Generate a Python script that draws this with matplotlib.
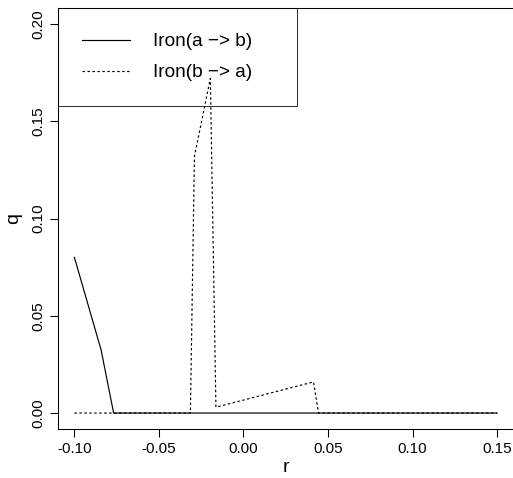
import numpy as np
import matplotlib
matplotlib.use("Agg")
from matplotlib import pyplot as plt

plt.rcParams['font.family'] = ['Liberation Sans', 'DejaVu Sans']

# series
r_ab = [-0.100, -0.0842, -0.0768, 0.150]
q_ab = [0.080, 0.0324, 0.0, 0.0]
r_ba = [-0.100, -0.0314, -0.0290, -0.0196, -0.0163, 0.0414, 0.0444, 0.150]
q_ba = [0.0, 0.0, 0.132, 0.172, 0.003, 0.016, 0.0, 0.0]
labels = ['Iron(a \u2212> b)', 'Iron(b \u2212> a)']
xticks = [-0.10, -0.05, 0.00, 0.05, 0.10, 0.15]
yticks = [0.00, 0.05, 0.10, 0.15, 0.20]

fs_tick = 11
fs_lab = 14
fs_leg = 13.7
fig = plt.figure(figsize=(5.13, 4.78), dpi=100)
ax = fig.add_axes([57.5/513, (478-428.6)/478, 456.5/513, 420.2/478])

ax.plot(r_ab, q_ab, color='black', lw=0.85, label=labels[0])
ax.plot(r_ba, q_ba, color='black', lw=0.85, dashes=(2.1, 2.1), label=labels[1])

ax.set_xlim(-0.11, 0.16)
ax.set_ylim(-0.008, 0.208)
ax.set_xticks(xticks)
ax.set_xticklabels(['%.2f' % v for v in xticks], fontsize=fs_tick)
ax.set_yticks(yticks)
ax.set_yticklabels(['%.2f' % v for v in yticks], fontsize=fs_tick, rotation=90, va='center')
ax.tick_params(length=6, width=0.75, direction='out')
ax.tick_params(axis='x', pad=4)
ax.tick_params(axis='y', pad=2.5)
for s in ax.spines.values():
    s.set_linewidth(0.75)

ax.set_xlabel('r', fontsize=fs_lab)
ax.xaxis.label.set_va('center')
ax.xaxis.set_label_coords(0.5, -0.0914)
ax.set_ylabel('q', fontsize=fs_lab)
ax.yaxis.label.set_va('center')
ax.yaxis.set_label_coords(-0.0953, 0.5)

# R legend: transparent box, lines show through
leg = ax.legend(loc='upper left', bbox_to_anchor=(0, 0, 0.5236, 1), mode='expand',
                borderaxespad=0, fontsize=fs_leg, fancybox=False, frameon=True,
                handlelength=2.53, handletextpad=1.2, borderpad=1.3,
                labelspacing=0.72, edgecolor='black')
leg.get_frame().set_linewidth(0.75)
leg.get_frame().set_facecolor('none')

fig.savefig('out.png', dpi=100)
